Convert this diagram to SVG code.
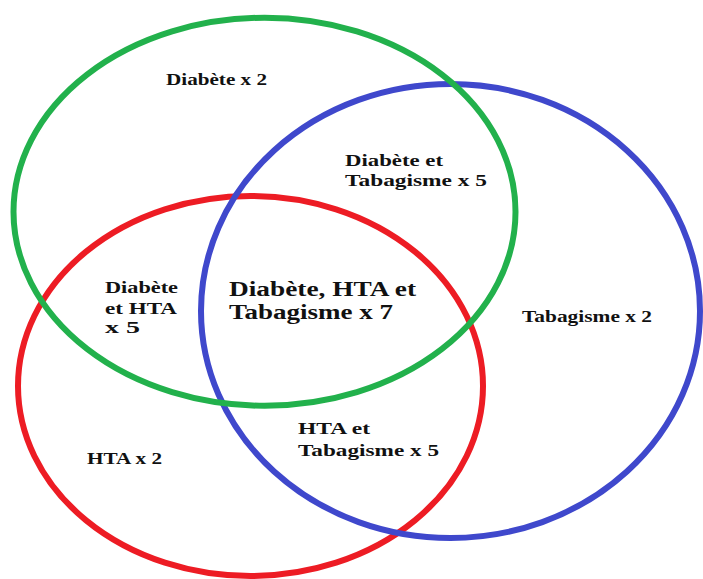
<svg xmlns="http://www.w3.org/2000/svg" width="703" height="579" viewBox="0 0 703 579">
  <style>
    .ring { fill: none; stroke-width: 6; }
    .lbl { font-family: "Liberation Serif", "Times New Roman", serif; font-weight: bold; font-size: 17px; fill: #111; }
    .big { font-size: 20px; }
  </style>
  <rect width="703" height="579" fill="#ffffff"/>
  <g id="sets">
    <g id="hta"><ellipse class="ring" cx="250.5" cy="386" rx="232.5" ry="190" stroke="#ed1c24"/></g>
    <g id="tabagisme"><ellipse class="ring" cx="450.5" cy="311" rx="249.5" ry="227" stroke="#3f48cc"/></g>
    <g id="diabete"><ellipse class="ring" cx="264.5" cy="211.75" rx="251" ry="194" stroke="#22b14c"/></g>
  </g>
  <g id="labels" class="lbl">
    <g id="l-diabete"><text x="166" y="85" textLength="101" lengthAdjust="spacingAndGlyphs">Diabète x 2</text></g>
    <g id="l-diab-tab">
      <text x="345" y="166" textLength="98" lengthAdjust="spacingAndGlyphs">Diabète et</text>
      <text x="345" y="186" textLength="142" lengthAdjust="spacingAndGlyphs">Tabagisme x 5</text>
    </g>
    <g id="l-all">
      <text class="big" x="229" y="296" textLength="187" lengthAdjust="spacingAndGlyphs">Diabète, HTA et</text>
      <text class="big" x="229" y="319" textLength="164" lengthAdjust="spacingAndGlyphs">Tabagisme x 7</text>
    </g>
    <g id="l-diab-hta">
      <text x="105" y="293" textLength="73" lengthAdjust="spacingAndGlyphs">Diabète</text>
      <text x="105" y="314" textLength="72" lengthAdjust="spacingAndGlyphs">et HTA</text>
      <text x="105" y="333" textLength="35" lengthAdjust="spacingAndGlyphs">x 5</text>
    </g>
    <g id="l-tabagisme"><text x="522" y="322" textLength="130" lengthAdjust="spacingAndGlyphs">Tabagisme x 2</text></g>
    <g id="l-hta"><text x="87" y="464" textLength="75" lengthAdjust="spacingAndGlyphs">HTA x 2</text></g>
    <g id="l-hta-tab">
      <text x="298" y="434" textLength="72" lengthAdjust="spacingAndGlyphs">HTA et</text>
      <text x="298" y="456" textLength="141" lengthAdjust="spacingAndGlyphs">Tabagisme x 5</text>
    </g>
  </g>
</svg>
